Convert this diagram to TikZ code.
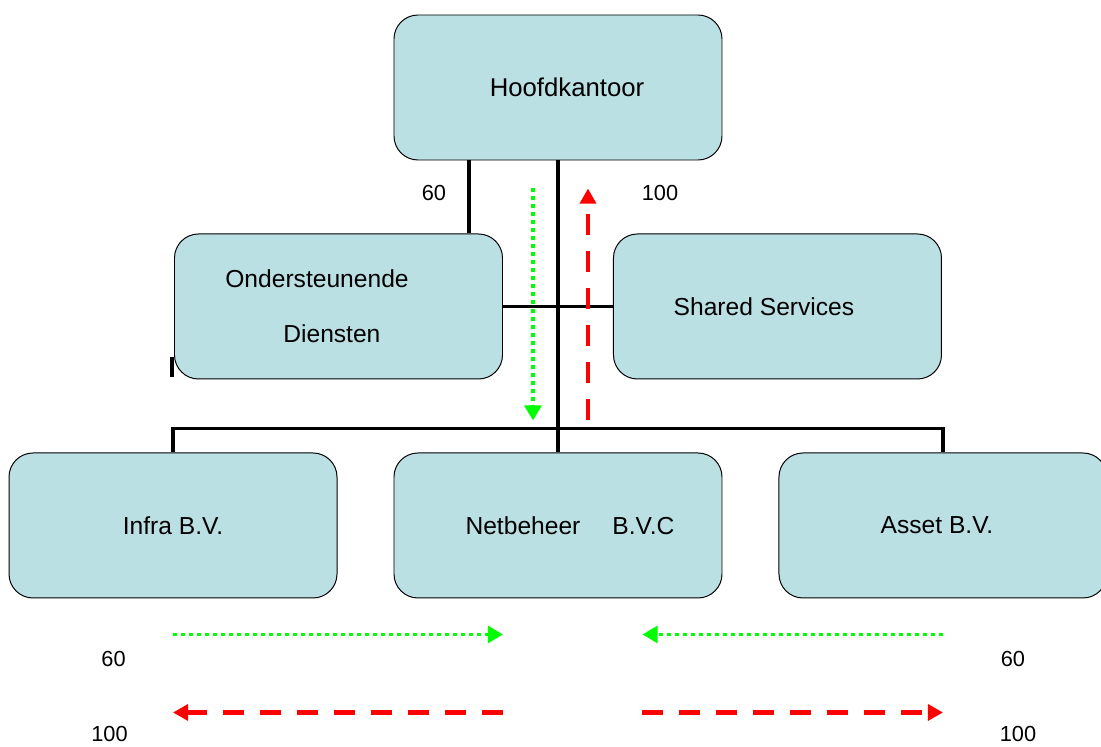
\documentclass[tikz,border=0pt]{standalone}
\usepackage{fontspec}
\setmainfont{Liberation Sans}
\usepackage{tikz}
\usetikzlibrary{positioning, calc, arrows.meta}

\begin{document}
\begin{tikzpicture}[
    unit/.style = {rectangle, draw=black, line width=0.7pt, fill=boxfill, rounded corners=0.6cm, minimum width=8.2cm, minimum height=3.625cm, inner sep=0pt, font=\fontsize{17.5}{21}\selectfont},
    link/.style = {draw, line width=2.2pt, color=black},
    greenflow/.style = {draw, line width=2.8pt, color=flowgreen, dash pattern=on 0.1cm off 0.1cm, -{Triangle[length=0.38cm, width=0.42cm]}},
    redflow/.style = {draw, line width=3.5pt, color=flowred, dash pattern=on 0.525cm off 0.4cm, -{Triangle[length=0.38cm, width=0.4cm]}},
    pct/.style = {font=\fontsize{15.5}{18}\selectfont, inner sep=0pt}
]
    % Colors definition
    \definecolor{boxfill}{RGB}{187, 224, 227}
    \definecolor{flowgreen}{RGB}{0, 255, 0}
    \definecolor{flowred}{RGB}{255, 0, 0}

    \useasboundingbox (-13.95,-16.4875) rectangle (13.575,2.1875);

    % Nodes
    \node (hq) [unit, font=\fontsize{18.3}{22}\selectfont] at (0,0) {\hspace*{0.45cm}Hoofdkantoor};

    % Staff units
    \node (support) [unit, below=1.825cm of hq, xshift=-5.4875cm, align=left] {Ondersteunende\hspace*{1.075cm}\\[0.635cm]\hspace*{1.45cm}Diensten};
    \node (shared) [unit, right=2.75cm of support] {Shared Services\hspace*{0.675cm}};

    % Subsidiaries
    \node (net) [unit, below=7.3cm of hq] {\hspace*{0.6cm}Netbeheer\hspace{0.8cm}B.V.C};
    \node (infra) [unit, left=1.4cm of net] {Infra B.V.};
    \node (asset) [unit, right=1.4cm of net] {Asset B.V.\hspace*{0.3cm}};

    % Helper coordinates
    \coordinate (bus) at ([yshift=0.6cm]net.north);
    \coordinate (netr) at ([xshift=-2cm]net.south east);
    \coordinate (gin) at ([yshift=-0.9cm]infra.south);
    \coordinate (gas) at ([yshift=-0.9cm]asset.south);
    \coordinate (rin) at ([yshift=-2.85cm]infra.south);
    \coordinate (ras) at ([yshift=-2.85cm]asset.south);

    % Connections
    \draw [link] ([xshift=-2.225cm]hq.south) -- ([xshift=-2.225cm]hq.south |- support.north);
    \draw [link] (hq.south) -- (net.north);
    \draw [link] (support.east) -- (shared.west);
    \draw [link] (infra.north) |- (bus) -| (asset.north);
    \draw [link] ([xshift=-0.05cm, yshift=0.05cm]support.south west) -- ++(0,0.5);

    % Flows between head office and subsidiaries
    \draw [greenflow] ([xshift=-0.625cm, yshift=-0.7cm]hq.south) -- ([xshift=-0.625cm, yshift=0.2cm]bus);
    \draw [redflow] ([xshift=0.75cm, yshift=0.2cm]bus) -- ([xshift=0.75cm, yshift=-0.7cm]hq.south);
    \draw [greenflow] (gin) -- (gin -| support.east);
    \draw [greenflow] (gas) -- (gas -| netr);
    \draw [redflow] (rin -| support.east) -- (rin);
    \draw [redflow] (ras -| netr) -- (ras);

    % Percentages
    \node [pct] at ([xshift=-3.1cm, yshift=-0.825cm]hq.south) {60};
    \node [pct] at ([xshift=2.55cm, yshift=-0.825cm]hq.south) {100};
    \node [pct] at ([xshift=-1.4875cm, yshift=-1.525cm]infra.south) {60};
    \node [pct] at ([xshift=-1.5875cm, yshift=-3.38cm]infra.south) {100};
    \node [pct] at ([xshift=1.75cm, yshift=-1.525cm]asset.south) {60};
    \node [pct] at ([xshift=1.875cm, yshift=-3.38cm]asset.south) {100};

\end{tikzpicture}
\end{document}
